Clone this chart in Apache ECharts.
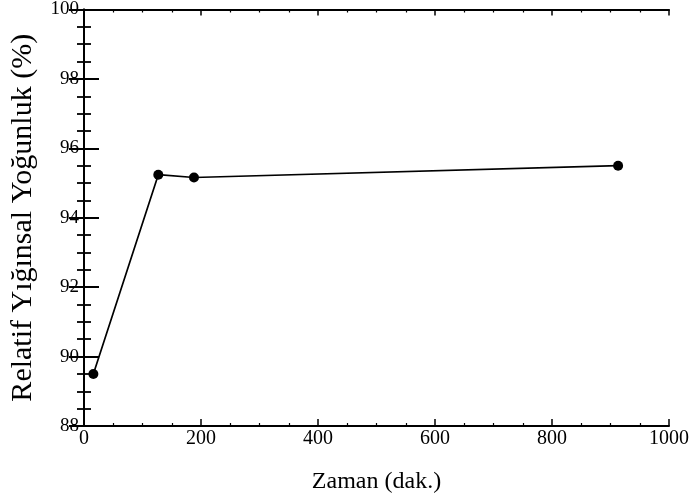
<!DOCTYPE html>
<html>
<head>
<meta charset="utf-8">
<script src="https://cdn.jsdelivr.net/npm/echarts@6/dist/echarts.min.js"></script>
<style>html,body{margin:0;padding:0;background:#fff;}#c{width:692px;height:499px;}</style>
</head>
<body>
<div id="c"></div>
<script>
const timeMin = [16, 127, 188, 913];
const density = [89.5, 95.24, 95.16, 95.5];
const xTicks = [0, 200, 400, 600, 800, 1000];
const yTicks = [88, 90, 92, 94, 96, 98, 100];
const xTitle = 'Zaman (dak.)';
const yTitle = 'Relatif Yığınsal Yoğunluk (%)';

const font = 'Liberation Serif';
const chart = echarts.init(document.getElementById('c'));
const axisLine = {show: true, lineStyle: {color: '#000', width: 2}};
chart.setOption({
  animation: false,
  backgroundColor: '#fff',
  grid: {left: 83, right: 21, top: 7, bottom: 72, containLabel: false},
  xAxis: [{
    type: 'value', min: xTicks[0], max: xTicks[xTicks.length - 1], interval: 200,
    position: 'bottom',
    axisLine: axisLine,
    axisTick: {show: true, inside: true, length: 7, lineStyle: {color: '#000', width: 1.5}},
    minorTick: {show: true, splitNumber: 4, length: 3, lineStyle: {color: '#000', width: 1.2}},
    splitLine: {show: false},
    axisLabel: {color: '#000', fontFamily: font, fontSize: 20, margin: 3, formatter: v => String(v)},
    name: xTitle, nameLocation: 'middle', nameGap: 44,
    nameTextStyle: {color: '#000', fontFamily: font, fontSize: 24}
  }, {
    type: 'value', min: xTicks[0], max: xTicks[xTicks.length - 1], interval: 200,
    position: 'top',
    axisLine: axisLine,
    axisTick: {show: true, inside: true, length: 6, lineStyle: {color: '#000', width: 1.5}},
    minorTick: {show: true, splitNumber: 4, length: 3, lineStyle: {color: '#000', width: 1.2}},
    splitLine: {show: false},
    axisLabel: {show: false}
  }],
  yAxis: [{
    type: 'value', min: yTicks[0], max: yTicks[yTicks.length - 1], interval: 2,
    position: 'left',
    axisLine: axisLine,
    axisTick: {show: true, inside: true, length: 15, lineStyle: {color: '#000', width: 2}},
    minorTick: {show: true, splitNumber: 4, length: 7, lineStyle: {color: '#000', width: 1.8}},
    splitLine: {show: false},
    axisLabel: {color: '#000', fontFamily: font, fontSize: 19, margin: 5},
    name: yTitle, nameLocation: 'middle', nameGap: 46, nameRotate: 90,
    nameTextStyle: {color: '#000', fontFamily: font, fontSize: 30}
  }, {
    type: 'value', min: yTicks[0], max: yTicks[yTicks.length - 1], interval: 2,
    position: 'right',
    axisLine: axisLine,
    axisTick: {show: true, inside: true, length: 15, lineStyle: {color: '#000', width: 2}},
    minorTick: {show: true, splitNumber: 4, length: 7, lineStyle: {color: '#000', width: 1.8}},
    splitLine: {show: false},
    axisLabel: {show: false}
  }],
  series: [{
    type: 'line',
    data: timeMin.map((t, i) => [t, density[i]]),
    xAxisIndex: 0, yAxisIndex: 0,
    symbol: 'circle', symbolSize: 10,
    itemStyle: {color: '#000'},
    lineStyle: {color: '#000', width: 1.7}
  }]
});
</script>
</body>
</html>
